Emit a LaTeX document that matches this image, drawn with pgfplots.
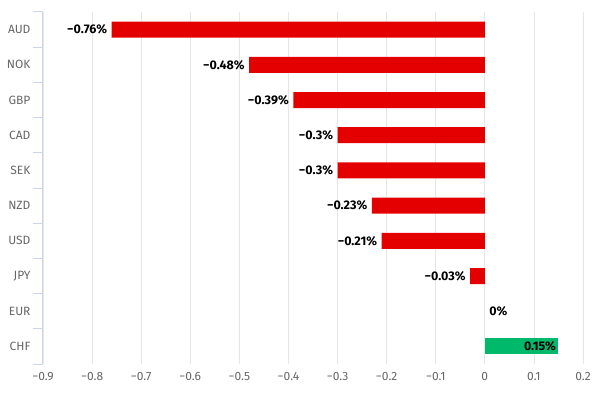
\documentclass[border=0pt]{standalone}
\usepackage{pgfplots}
\pgfplotsset{compat=1.18}
\usepackage{fontspec}
\setmainfont{Fira Sans}
\definecolor{barred}{HTML}{E50000}
\definecolor{bargreen}{HTML}{00B96B}
\definecolor{axisc}{HTML}{CCD6EB}
\definecolor{gridc}{HTML}{E6E6E6}
\definecolor{labc}{HTML}{666666}
\begin{document}
\begin{tikzpicture}
\begin{axis}[name=ax, scale only axis, width=540pt, height=352pt,
  xmin=-0.9, xmax=0.2, ymin=-0.5, ymax=9.5, y dir=reverse,
  xbar, bar width=16pt, bar shift=0pt,
  ytick={0,1,2,3,4,5,6,7,8,9},
  yticklabels={AUD,NOK,GBP,CAD,SEK,NZD,USD,JPY,EUR,CHF},
  xtick={-0.9,-0.8,-0.7,-0.6,-0.5,-0.4,-0.3,-0.2,-0.1,0,0.1,0.2},
  xticklabels={−0.9,−0.8,−0.7,−0.6,−0.5,−0.4,−0.3,−0.2,−0.1,0,0.1,0.2},
  major tick length=0pt,
  xmajorgrids, grid style={draw=gridc, line width=0.8pt},
  axis x line*=bottom, axis y line*=left,
  x axis line style={draw=none}, y axis line style={draw=axisc, line width=1pt},
  extra y ticks={-0.5,0.5,1.5,2.5,3.5,4.5,5.5,6.5,7.5,8.5,9.5},
  extra y tick labels={},
  extra y tick style={major tick length=10pt, tick align=outside, tick style={draw=axisc, line width=1pt}},
  yticklabel style={font=\fontsize{12}{14}\selectfont, text=labc, xshift=-9pt},
  xticklabel style={font=\fontsize{12}{14}\selectfont, text=labc, yshift=-5pt},
  point meta=explicit symbolic,
  nodes near coords,
  nodes near coords style={font=\bfseries\fontsize{12.5}{14}\selectfont, text=black},
  axis on top=false,
]
\addplot[fill=barred, draw=none, nodes near coords style={anchor=east, xshift=-1pt}] coordinates {
  (-0.76,0) [{−0.76\%}]
  (-0.48,1) [{−0.48\%}]
  (-0.39,2) [{−0.39\%}]
  (-0.30,3) [{−0.3\%}]
  (-0.30,4) [{−0.3\%}]
  (-0.23,5) [{−0.23\%}]
  (-0.21,6) [{−0.21\%}]
  (-0.03,7) [{−0.03\%}]
};
\addplot[fill=none, draw=none, nodes near coords style={anchor=west, xshift=1pt}] coordinates {
  (0,8) [{0\%}]
};
\addplot[fill=bargreen, draw=none, nodes near coords style={anchor=east, xshift=1pt}] coordinates {
  (0.15,9) [{0.15\%}]
};
\end{axis}
\path[use as bounding box] ([xshift=-43pt,yshift=-33pt]ax.south west) rectangle ([xshift=18pt,yshift=12pt]ax.north east);
\end{tikzpicture}
\end{document}
